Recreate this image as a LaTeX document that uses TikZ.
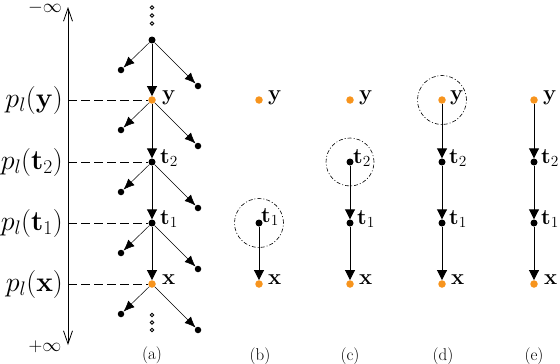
\RequirePackage{fix-cm}
\documentclass[tikz,border=0pt]{standalone}
\usetikzlibrary{arrows.meta}
\definecolor{dotorange}{RGB}{247,148,29}
\begin{document}
\begin{tikzpicture}[x=1pt,y=-1pt,
  bdot/.style={circle,fill=black,inner sep=0pt,minimum size=7pt},
  sdot/.style={circle,fill=black,inner sep=0pt,minimum size=6.5pt},
  odot/.style={circle,fill=dotorange,inner sep=0pt,minimum size=7.5pt},
  hdot/.style={circle,draw,line width=0.8pt,inner sep=0pt,minimum size=3.5pt},
  lbl/.style={anchor=base west,inner sep=0pt,font=\fontsize{22}{24}\selectfont},
  plbl/.style={anchor=east,inner sep=0pt,font=\fontsize{28}{30}\selectfont},
  inflbl/.style={inner sep=0pt,font=\fontsize{19}{21}\selectfont},
  captlbl/.style={inner sep=0pt,font=\fontsize{17}{19}\selectfont},
  chainarr/.style={line width=0.9pt,-{Triangle[length=10pt,width=10pt]}},
  sidearr/.style={line width=0.5pt,-{Latex[length=11pt,width=9pt]}},
  guide/.style={dash pattern=on 9pt off 4pt,line width=0.7pt},
  focus/.style={dash pattern=on 4pt off 2pt on 1pt off 2pt,line width=0.6pt}
]
\useasboundingbox (0,0) rectangle (560,364);

% axis
\coordinate (axtop) at (68,7);
\coordinate (axbot) at (68,345);
\draw[line width=0.8pt,{Straight Barb[length=13pt,width=9pt]}-{Straight Barb[length=13pt,width=9pt]}] (axtop) -- (axbot);
\node[inflbl] (minf) at (45,7.5) {$-\infty$};
\node[inflbl] (pinf) at (45,347) {$+\infty$};

\coordinate (gy) at (68,100);
\coordinate (gt2) at (68,162);
\coordinate (gt1) at (68,223);
\coordinate (gx) at (68,284);
\node[plbl] (py) at (63,100) {$p_l(\mathbf{y})$};
\node[plbl] (pt2) at (63,162) {$p_l(\mathbf{t}_2)$};
\node[plbl] (pt1) at (63,223) {$p_l(\mathbf{t}_1)$};
\node[plbl] (px) at (63,284) {$p_l(\mathbf{x})$};

% column (a)
\node[hdot] (d1) at (152,7.5) {};
\node[hdot] (d2) at (152,15.5) {};
\node[hdot] (d3) at (152,23.5) {};
\node[hdot] (d4) at (152,315) {};
\node[hdot] (d5) at (152,322.5) {};
\node[hdot] (d6) at (152,330) {};

\node[bdot] (a0) at (152,40) {};
\node[odot] (ay) at (152,100) {};
\node[bdot] (at2) at (152,162) {};
\node[bdot] (at1) at (152,223) {};
\node[odot] (ax) at (152,284) {};
\foreach \n/\yy in {a0/40,ay/100,at2/162,at1/223,ax/284} {
  \node[sdot] (\n l) at (121,\yy+30) {};
  \node[sdot] (\n r) at (198,\yy+46) {};
  \draw[sidearr] (\n) -- (\n l);
  \draw[sidearr] (\n) -- (\n r);
}
\draw[chainarr] (a0) -- (ay);
\draw[chainarr] (ay) -- (at2);
\draw[chainarr] (at2) -- (at1);
\draw[chainarr] (at1) -- (ax);
\draw[guide] (gy) -- (ay);
\draw[guide] (gt2) -- (at2);
\draw[guide] (gt1) -- (at1);
\draw[guide] (gx) -- (ax);
\node[lbl] (lay) at (162,100) {$\mathbf{y}$};
\node[lbl] (lat2) at (160,163) {$\mathbf{t}_2$};
\node[lbl] (lat1) at (160,224) {$\mathbf{t}_1$};
\node[lbl] (lax) at (162,284) {$\mathbf{x}$};

% column (b)
\node[odot] (by) at (259,100) {};
\node[bdot] (bt1) at (259,223) {};
\node[odot] (bx) at (259,284) {};
\draw[chainarr] (bt1) -- (bx);
\draw[focus] (bt1) circle[radius=24.5pt];
\node[lbl] (lby) at (268,100) {$\mathbf{y}$};
\node[lbl] (lbt1) at (261,222) {$\mathbf{t}_1$};
\node[lbl] (lbx) at (268,284) {$\mathbf{x}$};

% column (c)
\node[odot] (cy) at (350,100) {};
\node[bdot] (ct2) at (350,162) {};
\node[bdot] (ct1) at (350,223) {};
\node[odot] (cx) at (350,284) {};
\draw[chainarr] (ct2) -- (ct1);
\draw[chainarr] (ct1) -- (cx);
\draw[focus] (ct2) circle[radius=24pt];
\node[lbl] (lct2) at (353,163) {$\mathbf{t}_2$};
\node[lbl] (lcy) at (359,100) {$\mathbf{y}$};
\node[lbl] (lct1) at (357,224) {$\mathbf{t}_1$};
\node[lbl] (lcx) at (359,284) {$\mathbf{x}$};

% column (d)
\node[odot] (dy) at (442,100) {};
\node[bdot] (dt2) at (442,162) {};
\node[bdot] (dt1) at (442,223) {};
\node[odot] (dx) at (442,284) {};
\draw[chainarr] (dy) -- (dt2);
\draw[chainarr] (dt2) -- (dt1);
\draw[chainarr] (dt1) -- (dx);
\draw[focus] (dy) circle[radius=24.5pt];
\node[lbl] (ldy) at (450,100) {$\mathbf{y}$};
\node[lbl] (ldt2) at (449,163) {$\mathbf{t}_2$};
\node[lbl] (ldt1) at (449,224) {$\mathbf{t}_1$};
\node[lbl] (ldx) at (451,284) {$\mathbf{x}$};

% column (e)
\node[odot] (ey) at (534,100) {};
\node[bdot] (et2) at (534,162) {};
\node[bdot] (et1) at (534,223) {};
\node[odot] (ex) at (534,284) {};
\draw[chainarr] (ey) -- (et2);
\draw[chainarr] (et2) -- (et1);
\draw[chainarr] (et1) -- (ex);
\node[lbl] (ley) at (543,100) {$\mathbf{y}$};
\node[lbl] (let2) at (541,163) {$\mathbf{t}_2$};
\node[lbl] (let1) at (541,224) {$\mathbf{t}_1$};
\node[lbl] (lex) at (544,284) {$\mathbf{x}$};

% captions
\node[captlbl] (capa) at (152,355) {(a)};
\node[captlbl] (capb) at (260,356) {(b)};
\node[captlbl] (capc) at (350,356) {(c)};
\node[captlbl] (capd) at (443,356) {(d)};
\node[captlbl] (cape) at (534,356) {(e)};
\end{tikzpicture}
\end{document}
